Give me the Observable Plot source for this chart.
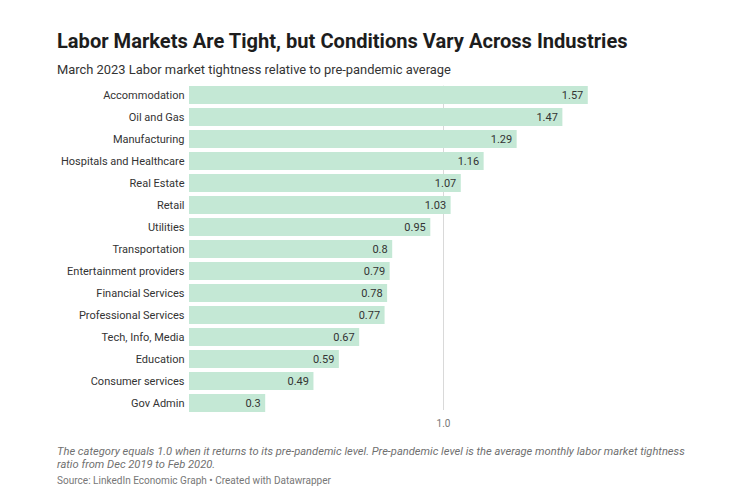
<!DOCTYPE html>
<html>
<head>
<meta charset="utf-8">
<script src="https://cdn.jsdelivr.net/npm/d3@7"></script>
<script src="https://cdn.jsdelivr.net/npm/@observablehq/plot@0.6"></script>
<style>
  html, body { margin: 0; padding: 0; background: #fff; }
  body { width: 749px; height: 503px; position: relative; overflow: hidden; font-family: Roboto, "Noto Sans", sans-serif; }
  .t { position: absolute; left: 57px; white-space: nowrap; }
  #title { top: 28.5px; font-size: 20.1px; font-weight: 700; color: #1d1d1d; }
  #subtitle { top: 61.5px; font-size: 12.9px; color: #333; }
  #chart { position: absolute; left: 0; top: 78px; }
  #note { top: 445px; font-size: 11.15px; font-style: italic; color: #707070; line-height: 13px; }
  #source { top: 474.7px; font-size: 10.05px; color: #777; }
</style>
</head>
<body>
<div id="title" class="t">Labor Markets Are Tight, but Conditions Vary Across Industries</div>
<div id="subtitle" class="t">March 2023 Labor market tightness relative to pre-pandemic average</div>
<div id="chart"></div>
<div id="note" class="t">The category equals 1.0 when it returns to its pre-pandemic level. Pre-pandemic level is the average monthly labor market tightness<br>ratio from Dec 2019 to Feb 2020.</div>
<div id="source" class="t">Source: LinkedIn Economic Graph • Created with Datawrapper</div>
<script>
const industries = ["Accommodation", "Oil and Gas", "Manufacturing", "Hospitals and Healthcare", "Real Estate", "Retail", "Utilities", "Transportation", "Entertainment providers", "Financial Services", "Professional Services", "Tech, Info, Media", "Education", "Consumer services", "Gov Admin"];
const tightness = [1.57, 1.47, 1.29, 1.16, 1.07, 1.03, 0.95, 0.8, 0.79, 0.78, 0.77, 0.67, 0.59, 0.49, 0.3];
const referenceTick = [1];
const referenceTickLabels = ["1.0"];

const data = industries.map((name, i) => ({ name, value: tightness[i] }));

const chart = Plot.plot({
  width: 749,
  height: 360,
  marginLeft: 189,
  marginRight: 150,
  marginTop: 7.7,
  marginBottom: 28,
  style: { fontFamily: "Roboto, 'Noto Sans', sans-serif", background: "transparent" },
  x: { domain: [0, 1.6], range: [189, 189 + 254 * 1.6], axis: null },
  y: { domain: industries, range: [5.7, 335.7], paddingInner: 0.18, paddingOuter: 0.09, axis: null },
  marks: [
    Plot.ruleX(referenceTick, { stroke: "#d9d9d9", strokeWidth: 1 }),
    Plot.barX(data, { x: "value", y: "name", fill: "#c4e8d5" }),
    Plot.text(data, { x: "value", y: "name", text: d => String(d.value), textAnchor: "end", dx: -5, fontSize: 11, fill: "#333" }),
    Plot.axisY({ tickSize: 0, tickPadding: 5, fontSize: 11, color: "#333", label: null }),
    Plot.axisX(referenceTick, { tickSize: 0, tickPadding: 9, fontSize: 10, color: "#777", tickFormat: (d, i) => referenceTickLabels[i], label: null })
  ]
});
document.getElementById("chart").appendChild(chart);
</script>
</body>
</html>
